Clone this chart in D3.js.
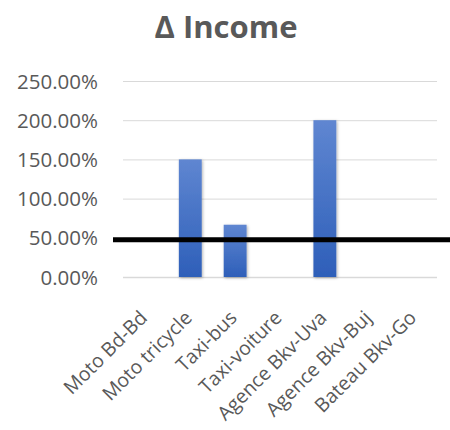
<!DOCTYPE html>
<html><head><meta charset="utf-8">
<script src="https://cdn.jsdelivr.net/npm/d3@7"></script>
<style>body{margin:0;background:#fff;}svg{display:block;}</style>
</head><body>
<svg id="c" width="450" height="430"></svg>
<script>
const categories = ["Moto Bd-Bd","Moto tricycle","Taxi-bus","Taxi-voiture","Agence Bkv-Uva","Agence Bkv-Buj","Bateau Bkv-Go"];
const values = [0, 1.5, 0.6667, 0, 2.0, 0, 0];
const yTicks = [0, 0.5, 1.0, 1.5, 2.0, 2.5];
const refLine = [0.475];
const title = "Δ Income";

const svg = d3.select("#c");
const font = "'Open Sans', sans-serif";
const m = {left:123, right:437, top:81, bottom:277};
const x = d3.scaleBand().domain(categories).range([m.left, m.right]).paddingInner(0.49).paddingOuter(0.245);
const y = d3.scaleLinear().domain([0, 2.5]).range([m.bottom, m.top]);

const defs = svg.append("defs");
const g = defs.append("linearGradient").attr("id","bg").attr("x1",0).attr("y1",0).attr("x2",0).attr("y2",1);
g.append("stop").attr("offset","0%").attr("stop-color","#5f86d1");
g.append("stop").attr("offset","100%").attr("stop-color","#2e5fb9");
const f = defs.append("filter").attr("id","sh").attr("x","-30%").attr("y","-10%").attr("width","160%").attr("height","130%");
f.append("feDropShadow").attr("dx",1).attr("dy",1).attr("stdDeviation",1.5).attr("flood-color","#000").attr("flood-opacity",0.3);

svg.append("text").attr("x",226).attr("y",38).attr("text-anchor","middle")
  .attr("font-family",font).attr("font-weight","bold").attr("font-size",31).attr("fill","#595959").text(title);

const yAxis = d3.axisLeft(y).tickValues(yTicks).tickSize(-(m.right-m.left)).tickPadding(25)
  .tickFormat(d => (d*100).toFixed(2) + "%");
const ya = svg.append("g").attr("transform",`translate(${m.left},0)`).call(yAxis);
ya.select(".domain").remove();
ya.selectAll(".tick line").attr("stroke","#d9d9d9").attr("stroke-width",1);
ya.selectAll(".tick text").attr("font-family",font).attr("font-size",20.5).attr("fill","#595959").attr("dy","0.35em");
ya.selectAll(".tick").filter(d => d===0).select("line").attr("stroke-width",1.5);

svg.append("g").selectAll("rect").data(values).join("rect")
  .attr("x",(d,i)=>x(categories[i])).attr("width",x.bandwidth())
  .attr("y",d=>y(d)).attr("height",d=>y(0)-y(d))
  .attr("fill","url(#bg)").attr("filter","url(#sh)");

const xAxis = d3.axisBottom(x).tickSize(0).tickPadding(0);
const xa = svg.append("g").attr("transform",`translate(0,${m.bottom})`).call(xAxis);
xa.select(".domain").remove();
xa.selectAll(".tick text").attr("font-family",font).attr("font-size",19.5).attr("fill","#595959")
  .attr("text-anchor","end").attr("dy",0).attr("y",0)
  .attr("transform","translate(3,42) rotate(-45)");

svg.append("g").selectAll("line").data(refLine).join("line")
  .attr("x1",113).attr("x2",450).attr("y1",d=>y(d)).attr("y2",d=>y(d))
  .attr("stroke","#000").attr("stroke-width",5);
</script>
</body></html>
